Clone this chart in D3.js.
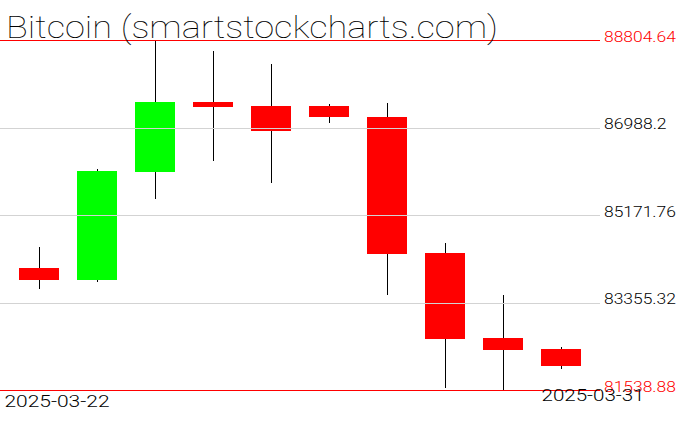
<!DOCTYPE html>
<html><head><meta charset="utf-8">
<script src="https://cdn.jsdelivr.net/npm/d3@7"></script>
<style>
html,body{margin:0;padding:0;background:#fff;}
svg{display:block;}
</style>
</head><body>
<svg id="chart" width="676" height="431"></svg>
<script>
const dates = ["2025-03-22","2025-03-23","2025-03-24","2025-03-25","2025-03-26","2025-03-27","2025-03-28","2025-03-29","2025-03-30","2025-03-31"];
const open  = [84071.5, 83828.6, 86070.0, 87517.6, 87434.5, 87434.5, 87206.1, 84382.9, 82618.3, 82390.0];
const high  = [84507.4, 86120.4, 88804.64, 88576.3, 88306.4, 87476.0, 87496.8, 84590.5, 83511.0, 82431.5];
const low   = [83641.8, 83787.1, 85510.1, 86299.0, 85842.2, 87087.8, 83517.2, 81586.6, 81538.88, 81981.0];
const close = [83828.6, 86085.1, 87517.6, 87420.0, 86921.7, 87212.4, 84368.3, 82603.8, 82375.4, 82043.3];
const tickLabels = ["88804.64","86988.2","85171.76","83355.32","81538.88"];
const title = "Bitcoin (smartstockcharts.com)";

const svg = d3.select("#chart");
const yMin = 81538.88, yMax = 88804.64;
const y = d3.scaleLinear().domain([yMin, yMax]).range([390, 40]);
const x = d3.scaleBand().domain(dates).range([10, 590]).paddingInner(0.31).paddingOuter(0.155);

// candles
const data = dates.map((d,i)=>({d, o:open[i], h:high[i], l:low[i], c:close[i]}));
const g = svg.append("g");
g.selectAll("line.wick").data(data).join("line")
  .attr("class","wick")
  .attr("x1", d => Math.round(x(d.d) + x.bandwidth()/2) + 0.5)
  .attr("x2", d => Math.round(x(d.d) + x.bandwidth()/2) + 0.5)
  .attr("y1", d => y(d.h)).attr("y2", d => y(d.l))
  .attr("stroke", "#000").attr("stroke-width", 1)
  .attr("shape-rendering","crispEdges");
g.selectAll("rect.body").data(data).join("rect")
  .attr("class","body")
  .attr("x", d => Math.round(x(d.d)))
  .attr("width", Math.round(x.bandwidth()))
  .attr("y", d => y(Math.max(d.o, d.c)))
  .attr("height", d => Math.max(1, Math.abs(y(d.o) - y(d.c))))
  .attr("fill", d => d.c >= d.o ? "#00ff00" : "#ff0000")
  .attr("shape-rendering","crispEdges");

// right axis with gridlines
const tickVals = tickLabels.map(Number);
const axis = d3.axisRight(y).tickValues(tickVals).tickSize(-600).tickPadding(4)
  .tickFormat((d,i) => tickLabels[i]);
const ag = svg.append("g").attr("transform","translate(600,0)").call(axis);
ag.select(".domain").remove();
ag.selectAll(".tick line")
  .attr("stroke", (d,i) => (i===0 || i===tickVals.length-1) ? "#ff0000" : "#d3d3d3")
  .attr("shape-rendering","crispEdges");
ag.selectAll(".tick text")
  .attr("dy", "0.07em")
  .attr("fill", (d,i) => (i===0 || i===tickVals.length-1) ? "#ff0000" : "#000")
  .attr("font-family","Roboto")
  .attr("font-weight", 300)
  .attr("font-size", 15)
  .attr("textLength", d => String(tickLabels[tickVals.indexOf(d)]).length * 9.3 - 2.5)
  .attr("lengthAdjust","spacingAndGlyphs");

// title
svg.append("text").text(title)
  .attr("x", 6).attr("y", 37.5)
  .attr("font-family","Roboto").attr("font-weight",100)
  .attr("font-size", 32)
  .attr("textLength", 492).attr("lengthAdjust","spacingAndGlyphs")
  .attr("fill","#000");

// date labels
svg.append("text").text(dates[0])
  .attr("x", 4.5).attr("y", 406.5)
  .attr("font-family","Roboto").attr("font-weight",300)
  .attr("font-size", 16)
  .attr("textLength", 105).attr("lengthAdjust","spacingAndGlyphs")
  .attr("fill","#000");
svg.append("text").text(dates[dates.length-1])
  .attr("x", 541.5).attr("y", 401)
  .attr("font-family","Roboto").attr("font-weight",300)
  .attr("font-size", 16)
  .attr("textLength", 103).attr("lengthAdjust","spacingAndGlyphs")
  .attr("fill","#000");
</script>
</body></html>
